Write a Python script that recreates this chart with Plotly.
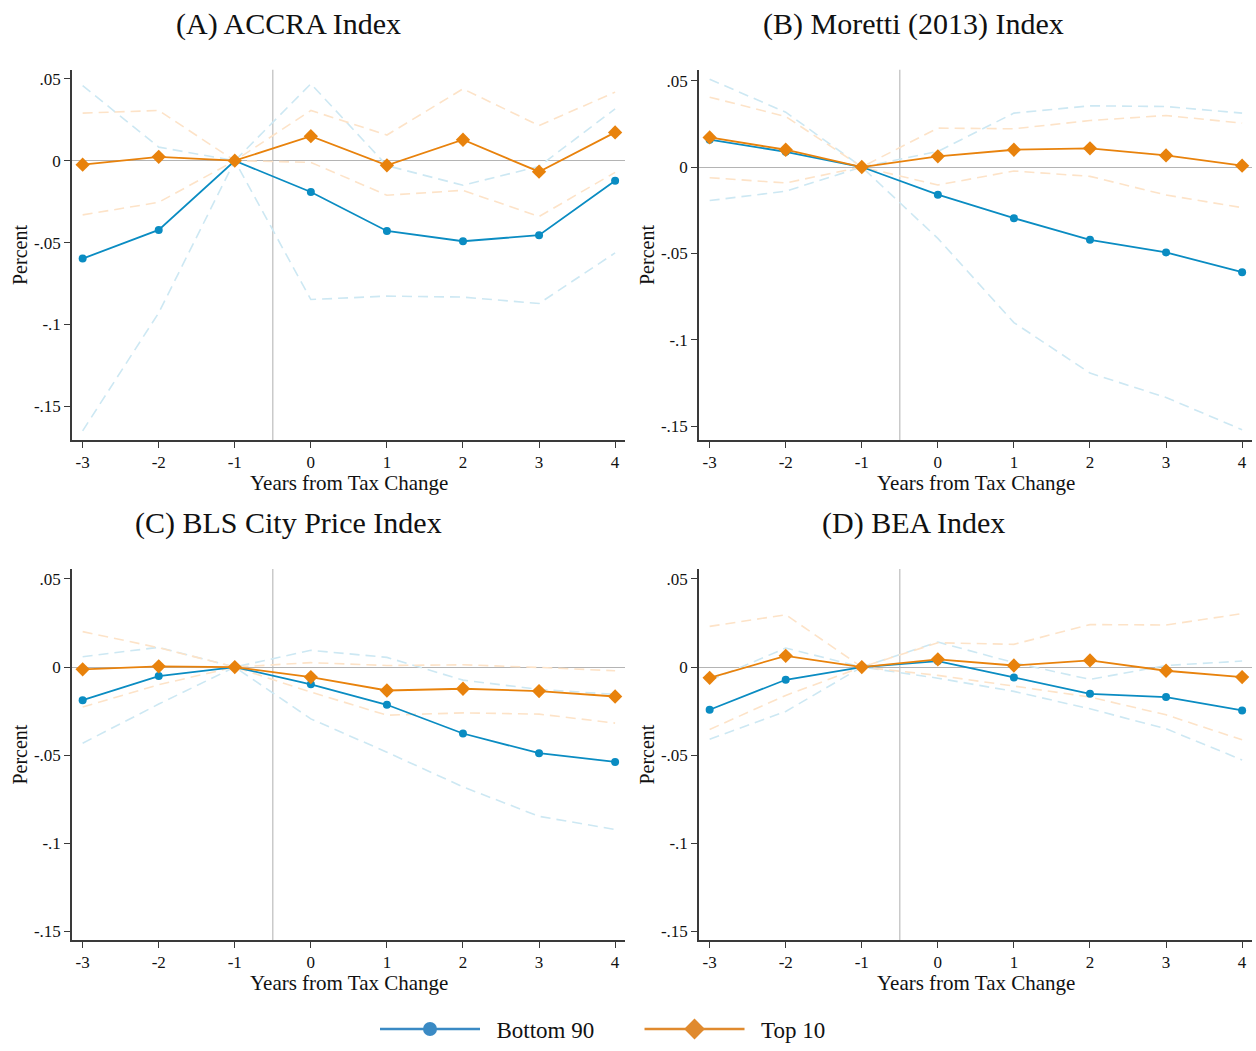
import plotly.graph_objects as go

# Event-time axis
years = [-3, -2, -1, 0, 1, 2, 3, 4]
tick_vals_y = [0.05, 0, -0.05, -0.1, -0.15]
tick_text_y = [".05", "0", "-.05", "-.1", "-.15"]

panel_titles = ["(A) ACCRA Index", "(B) Moretti (2013) Index",
                "(C) BLS City Price Index", "(D) BEA Index"]

# (A) ACCRA
a_b90 = [-0.0598, -0.0423, 0, -0.0191, -0.0429, -0.0492, -0.0455, -0.0122]
a_b90_hi = [0.0459, 0.0083, 0, 0.0470, -0.0030, -0.0150, -0.0035, 0.0317]
a_b90_lo = [-0.1650, -0.0929, 0, -0.0848, -0.0827, -0.0833, -0.0872, -0.0563]
a_t10 = [-0.0024, 0.0024, 0, 0.0150, -0.0028, 0.0128, -0.0067, 0.0173]
a_t10_hi = [0.0291, 0.0307, 0, 0.0307, 0.0157, 0.0439, 0.0215, 0.0419]
a_t10_lo = [-0.0331, -0.0254, 0, -0.0010, -0.0211, -0.0181, -0.0341, -0.0071]

# (B) Moretti (2013)
b_b90 = [0.0158, 0.0088, 0, -0.0160, -0.0296, -0.0421, -0.0494, -0.0608]
b_b90_hi = [0.0508, 0.0317, 0, 0.0090, 0.0312, 0.0354, 0.0350, 0.0312]
b_b90_lo = [-0.0194, -0.0140, 0, -0.0413, -0.0900, -0.1192, -0.1333, -0.1520]
b_t10 = [0.0171, 0.0100, 0, 0.0062, 0.0100, 0.0108, 0.0067, 0.0008]
b_t10_hi = [0.0404, 0.0292, 0, 0.0225, 0.0221, 0.0269, 0.0298, 0.0254]
b_t10_lo = [-0.0062, -0.0092, 0, -0.0104, -0.0023, -0.0054, -0.0162, -0.0235]

# (C) BLS City Price Index
c_b90 = [-0.0188, -0.0051, 0, -0.0098, -0.0214, -0.0377, -0.0489, -0.0538]
c_b90_hi = [0.0059, 0.0112, 0, 0.0095, 0.0055, -0.0074, -0.0127, -0.0155]
c_b90_lo = [-0.0432, -0.0210, 0, -0.0294, -0.0483, -0.0680, -0.0847, -0.0922]
c_t10 = [-0.0013, 0.0004, 0, -0.0057, -0.0133, -0.0123, -0.0136, -0.0167]
c_t10_hi = [0.0201, 0.0110, 0, 0.0025, 0.0009, 0.0013, -0.0002, -0.0021]
c_t10_lo = [-0.0227, -0.0100, 0, -0.0142, -0.0273, -0.0260, -0.0267, -0.0318]

# (D) BEA
d_b90 = [-0.0242, -0.0072, 0, 0.0034, -0.0059, -0.0152, -0.0170, -0.0246]
d_b90_hi = [-0.0076, 0.0108, 0, 0.0142, 0.0025, -0.0070, 0.0009, 0.0034]
d_b90_lo = [-0.0409, -0.0252, 0, -0.0063, -0.0138, -0.0237, -0.0350, -0.0527]
d_t10 = [-0.0061, 0.0064, 0, 0.0044, 0.0009, 0.0038, -0.0021, -0.0057]
d_t10_hi = [0.0231, 0.0297, 0, 0.0138, 0.0129, 0.0241, 0.0239, 0.0303]
d_t10_lo = [-0.0354, -0.0161, 0, -0.0047, -0.0108, -0.0170, -0.0271, -0.0413]

panels = [
    (a_b90, a_b90_lo, a_b90_hi, a_t10, a_t10_lo, a_t10_hi),
    (b_b90, b_b90_lo, b_b90_hi, b_t10, b_t10_lo, b_t10_hi),
    (c_b90, c_b90_lo, c_b90_hi, c_t10, c_t10_lo, c_t10_hi),
    (d_b90, d_b90_lo, d_b90_hi, d_t10, d_t10_lo, d_t10_hi),
]

W, H = 1256, 1051
BLUE = "#0a8cc2"
ORANGE = "#e8820c"
BLUE_CI = "#cde8f3"
ORANGE_CI = "#fde3c8"
AXIS = "#3a3a3a"
FONT = "Liberation Serif"
NBSP = "\u00a0"

# pixel boxes of each plot area: (left, right, top, bottom)
boxes = [(72, 625, 70, 441), (699, 1252, 70, 441),
         (72, 625, 570, 942), (699, 1252, 570, 942)]
y_ranges = [(-0.1707, 0.0555), (-0.158, 0.0562),
            (-0.155, 0.0557), (-0.155, 0.0557)]
x_range = (-3.14, 4.13)

fig = go.Figure()
annotations = []
shapes = []

for i, (b90, b90_lo, b90_hi, t10, t10_lo, t10_hi) in enumerate(panels):
    n = i + 1
    xa = "x" if n == 1 else f"x{n}"
    ya = "y" if n == 1 else f"y{n}"
    for series, col in [(b90_hi, BLUE_CI), (b90_lo, BLUE_CI),
                        (t10_hi, ORANGE_CI), (t10_lo, ORANGE_CI)]:
        fig.add_trace(go.Scatter(
            x=years, y=series, mode="lines", xaxis=xa, yaxis=ya,
            line=dict(color=col, width=1.6, dash="10px,6px"),
            showlegend=False, hoverinfo="skip"))
    fig.add_trace(go.Scatter(
        x=years, y=b90, mode="lines+markers", xaxis=xa, yaxis=ya,
        line=dict(color=BLUE, width=1.8),
        marker=dict(symbol="circle", size=8, color=BLUE),
        showlegend=False, name="Bottom 90"))
    fig.add_trace(go.Scatter(
        x=years, y=t10, mode="lines+markers", xaxis=xa, yaxis=ya,
        line=dict(color=ORANGE, width=1.8),
        marker=dict(symbol="diamond", size=11, color=ORANGE),
        showlegend=False, name="Top 10"))

    left, right, top, bottom = boxes[i]
    xdom = [left / W, right / W]
    ydom = [1 - bottom / H, 1 - top / H]
    axis_common = dict(
        showline=True, linecolor=AXIS, linewidth=1.5,
        ticks="outside", ticklen=6, tickwidth=1.2, tickcolor=AXIS,
        showgrid=False, tickfont=dict(family=FONT, size=17, color="#111"),
    )
    fig.layout[f"xaxis{'' if n == 1 else n}"] = dict(
        axis_common, domain=xdom, range=list(x_range), anchor=ya,
        tickvals=years, ticktext=[str(v) for v in years], zeroline=False)
    fig.layout[f"yaxis{'' if n == 1 else n}"] = dict(
        axis_common, domain=ydom, range=list(y_ranges[i]), anchor=xa,
        tickvals=tick_vals_y, ticktext=tick_text_y,
        zeroline=True, zerolinecolor="#b4b4b4", zerolinewidth=1.2)

    # event-time marker between -1 and 0
    shapes.append(dict(type="line", xref=xa, yref=f"{ya} domain",
                       x0=-0.5, x1=-0.5, y0=0, y1=1, layer="below",
                       line=dict(color="#bdbdbd", width=1.2)))

    cx = (left + right) / 2
    annotations.append(dict(
        text=panel_titles[i], xref="paper", yref="paper",
        x=(cx - 60 if n in (1, 3) else cx - 62) / W, y=1 - (top - 46) / H,
        xanchor="center", yanchor="middle", showarrow=False,
        font=dict(family=FONT, size=30, color="#111")))
    annotations.append(dict(
        text="Years from Tax Change", xref="paper", yref="paper",
        x=cx / W, y=1 - (bottom + 43) / H, xanchor="center",
        yanchor="middle", showarrow=False,
        font=dict(family=FONT, size=21, color="#111")))
    annotations.append(dict(
        text="Percent", xref="paper", yref="paper",
        x=(left - 52) / W, y=1 - ((top + bottom) / 2) / H,
        xanchor="center", yanchor="middle", textangle=-90, showarrow=False,
        font=dict(family=FONT, size=20, color="#111")))

# legend entries
fig.add_trace(go.Scatter(
    x=[None], y=[None], mode="lines+markers",
    name=NBSP * 2 + "Bottom 90" + NBSP * 7,
    line=dict(color="#3a8ac4", width=2.5),
    marker=dict(symbol="circle", size=14, color="#3a8ac4")))
fig.add_trace(go.Scatter(
    x=[None], y=[None], mode="lines+markers",
    name=NBSP * 2 + "Top 10",
    line=dict(color="#e08a2e", width=2.5),
    marker=dict(symbol="diamond", size=16, color="#e08a2e")))

fig.update_layout(
    width=W, height=H, margin=dict(l=0, r=0, t=0, b=0),
    paper_bgcolor="white", plot_bgcolor="white",
    annotations=annotations, shapes=shapes,
    legend=dict(orientation="h", x=603 / W, xanchor="center",
                y=1 - 1031 / H, yanchor="middle",
                itemwidth=100, font=dict(family=FONT, size=23, color="#111"),
                traceorder="normal", itemclick=False),
)

fig.write_html("out.html")
